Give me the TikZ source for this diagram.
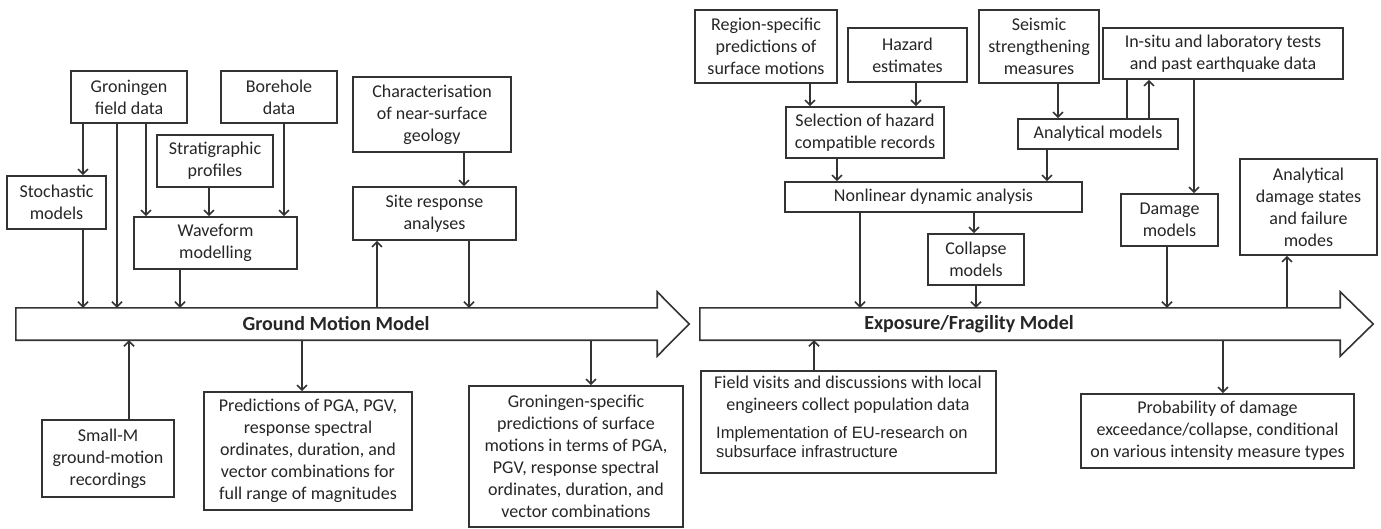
\documentclass[tikz,border=0pt]{standalone}
\usepackage{fontspec}
\setmainfont{Carlito}
\newfontfamily\arialf{Liberation Sans}
\usetikzlibrary{arrows.meta,calc}
\definecolor{linec}{HTML}{333333}
\definecolor{txtc}{HTML}{262626}
\newcommand\vlink[4][arr]{\path (#2) ++(#3,0) coordinate (vtmp); \draw[#1] (vtmp) -- (vtmp |- #4);}
\begin{document}
\begin{tikzpicture}[x=1pt,y=-1pt,
 box/.style={draw=linec, line width=1.6pt, fill=white, align=center, inner sep=0pt, text=txtc, font=\fontsize{18}{22}\selectfont},
 arr/.style={draw=linec, line width=1.6pt, -{Straight Barb[length=5pt,width=10pt,line width=1.6pt]}},
 ln/.style={draw=linec, line width=1.6pt},
 body/.style={minimum height=32pt, inner sep=0pt},
 outline/.style={draw=linec, line width=1.6pt, fill=white, line join=miter},
 big/.style={font=\fontsize{20}{24}\selectfont\bfseries, text=txtc},
 txt/.style={text=txtc, inner sep=0pt}]
\useasboundingbox (0,0) rectangle (1381,529);

% big arrows
\node[body, minimum width=641pt] (gmm) at (336.5,324) {};
\draw[outline] (gmm.north west) -- (gmm.north east) -- ++(0,-16) -- ($(gmm.east)+(32,0)$) -- ($(gmm.south east)+(0,16)$) -- (gmm.south east) -- (gmm.south west) -- cycle;
\node[big] (gmmt) at (336,324) {Ground Motion Model};

\node[body, minimum width=640pt] (efm) at (1020,324) {};
\draw[outline] (efm.north west) -- (efm.north east) -- ++(0,-16) -- ($(efm.east)+(33,0)$) -- ($(efm.south east)+(0,16)$) -- (efm.south east) -- (efm.south west) -- cycle;
\node[big] (efmt) at (969,324) {Exposure/Fragility Model};

% left boxes
\node[box, minimum width=116pt, minimum height=52pt] (gfd) at (129,97) {Groningen\\field data};
\node[box, minimum width=116pt, minimum height=52pt] (bore) at (279,97) {Borehole\\data};
\node[box, minimum width=116pt, minimum height=52pt] (strat) at (215,161) {Stratigraphic\\profiles};
\node[box, minimum width=99pt, minimum height=53pt] (stoch) at (56.5,202.5) {Stochastic\\models};
\node[box, minimum width=163pt, minimum height=52pt] (wave) at (215.5,243) {Waveform\\modelling};
\node[box, minimum width=158pt, minimum height=75pt] (char) at (432,114.5) {Characterisation\\of near-surface\\geology};
\node[box, minimum width=163pt, minimum height=53pt] (site) at (434.5,213.5) {Site response\\analyses};
\node[box, minimum width=132pt, minimum height=77pt] (smallm) at (108,458.5) {Small-M\\ground-motion\\recordings};
\node[box, minimum width=208pt, minimum height=118pt] (pred) at (308,451) {Predictions of PGA, PGV,\\response spectral\\ordinates, duration, and\\vector combinations for\\full range of magnitudes};
\node[box, minimum width=214pt, minimum height=141pt] (gspec) at (576,456.5) {Groningen-specific\\predictions of surface\\motions in terms of PGA,\\PGV, response spectral\\ordinates, duration, and\\vector combinations};

% right boxes
\node[box, minimum width=142pt, minimum height=73pt] (region) at (766,46.5) {Region-specific\\predictions of\\surface motions};
\node[box, minimum width=119pt, minimum height=54pt] (hazard) at (907.5,55) {Hazard\\estimates};
\node[box, minimum width=120pt, minimum height=73pt] (seis) at (1039,46.5) {Seismic\\strengthening\\measures};
\node[box, minimum width=240pt, minimum height=51pt] (insitu) at (1223,53.5) {In-situ and laboratory tests\\and past earthquake data};
\node[box, minimum width=158pt, minimum height=51pt] (sel) at (865,132.5) {Selection of hazard\\compatible records};
\node[box, minimum width=160pt, minimum height=30pt] (am) at (1098,134) {Analytical models};
\node[box, minimum width=297pt, minimum height=30pt] (nda) at (933.5,197) {Nonlinear dynamic analysis};
\node[box, minimum width=96pt, minimum height=51pt] (coll) at (976,259.5) {Collapse\\models};
\node[box, minimum width=97pt, minimum height=52pt] (dmg) at (1169.5,220) {Damage\\models};
\node[box, minimum width=137pt, minimum height=96pt] (ads) at (1308.5,207) {Analytical\\damage states\\and failure\\modes};
\node[box, minimum width=295pt, minimum height=102pt] (field) at (848.5,422) {};
\node[txt, align=center, font=\fontsize{18}{22}\selectfont] (fielda) at (848,395) {Field visits and discussions with local\\engineers collect population data};
\node[txt, align=left, anchor=west, font=\arialf\fontsize{16.5}{19}\selectfont] (fieldb) at (716,442.5) {Implementation of EU-research on\\subsurface infrastructure};
\node[box, minimum width=273pt, minimum height=74pt] (prob) at (1217.5,431) {Probability of damage\\exceedance/collapse, conditional\\on various intensity measure types};

% left connectors
\vlink{gfd.south}{-46}{stoch.north}
\vlink{gfd.south}{-12}{gmm.north}
\vlink{gfd.south}{17}{wave.north}
\vlink{strat.south}{-6}{wave.north}
\vlink{bore.south}{5}{wave.north}
\vlink{stoch.south}{26.5}{gmm.north}
\vlink{wave.south}{-35.5}{gmm.north}
\vlink{char.south}{32}{site.north}
\vlink{site.south}{34.5}{gmm.north}
\vlink{gmm.north}{40.5}{site.south}
\vlink{smallm.north}{21}{gmm.south}
\vlink{gmm.south}{-34.5}{pred.north}
\vlink{gmm.south}{254.5}{gspec.north}

% right connectors
\vlink{region.south}{44}{sel.north}
\vlink{hazard.south}{8.5}{sel.north}
\vlink{sel.south}{-28}{nda.north}
\vlink{seis.south}{19}{am.north}
\vlink{am.south}{-51}{nda.north}
\vlink[ln]{am.north}{29}{insitu.south}
\vlink{am.north}{51}{insitu.south}
\vlink{insitu.south}{-29}{dmg.north}
\vlink{nda.south}{-73.5}{efm.north}
\vlink{nda.south}{40.5}{coll.north}
\vlink{coll.south}{0}{efm.north}
\vlink{dmg.south}{-2.5}{efm.north}
\vlink{efm.north}{267}{ads.south}
\vlink{field.north}{-34.5}{efm.south}
\vlink{efm.south}{203}{prob.north}
\end{tikzpicture}
\end{document}
